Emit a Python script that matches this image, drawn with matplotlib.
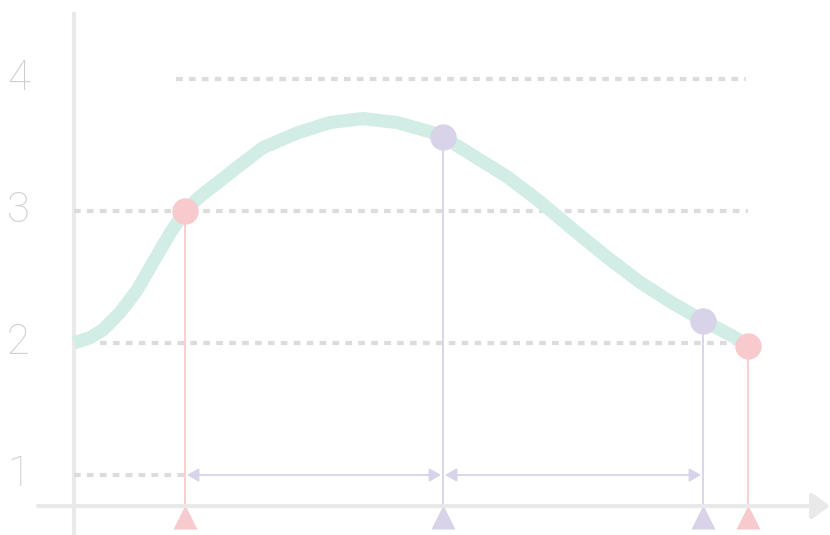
import matplotlib.pyplot as plt

# curve
curve_x = [0, .16, .29, .46, .63, .79, .96, 1.11, 1.26, 1.43, 1.63, 1.89, 2.23, 2.56,
           2.89, 3.23, 3.56, 3.69, 3.99, 4.33, 4.66, 4.99, 5.33, 5.66, 5.99, 6.29, 6.59, 6.74]
curve_y = [2.0, 2.04, 2.10, 2.23, 2.40, 2.61, 2.83, 3.0, 3.11, 3.21, 3.33, 3.48, 3.59, 3.67,
           3.70, 3.67, 3.60, 3.56, 3.42, 3.26, 3.07, 2.86, 2.65, 2.46, 2.30, 2.17, 2.05, 1.98]

pink_x = [1.11, 6.74]
pink_y = [3.0, 1.98]
purple_x = [3.69, 6.29]
purple_y = [3.56, 2.17]

ytick_vals = [1, 2, 3, 4]
ytick_labels = ['1', '2', '3', '4']
# dashed guide lines: level, start, end
guide_y = [4, 3, 2, 1]
guide_start = [1.02, 0, 0.26, 0]
guide_end = [6.72, 6.74, 6.74, 1.11]

mint = '#d2ede5'
pink = '#f7cbce'
purple = '#d8d3e8'
grey = '#dcdcdc'
axis_c = '#e9e9e9'

fig = plt.figure(figsize=(8.3, 5.35), dpi=100)
ax = fig.add_axes([0, 0, 1, 1])
ax.set_xlim(-0.74, 7.56)
ax.set_ylim(0.5455, 4.598)
ax.axis('off')

base = 0.765  # level of the x axis line
tri_y = 0.68

# axes
ax.plot([0, 0], [0.5455, 4.51], color=axis_c, lw=3, solid_capstyle='butt')
ax.annotate('', xy=(7.56, base), xytext=(-0.36, base),
            arrowprops=dict(arrowstyle='-|>,head_length=0.55,head_width=0.4',
                            color=axis_c, lw=3, shrinkA=0, shrinkB=0,
                            mutation_scale=20))

for v, lab in zip(ytick_vals, ytick_labels):
    ax.text(-0.67, v, lab, fontsize=30, fontfamily='Roboto', fontweight='light',
            color='#cfcfcf', ha='left', va='center')

for gy, gs, ge in zip(guide_y, guide_start, guide_end):
    ax.plot([gs, ge], [gy, gy], color=grey, lw=3, linestyle=(0, (1.6, 1.5)))

# drop lines
for px_, py_ in zip(pink_x, pink_y):
    ax.plot([px_, px_], [tri_y, py_], color=pink, lw=1.3)
for px_, py_ in zip(purple_x, purple_y):
    ax.plot([px_, px_], [tri_y, py_], color=purple, lw=1.3)

# span arrows
spans = [(pink_x[0], purple_x[0]), (purple_x[0], purple_x[1])]
for a, b in spans:
    ax.annotate('', xy=(a + 0.02, 1.0), xytext=(b - 0.02, 1.0),
                arrowprops=dict(arrowstyle='<|-|>,head_length=0.35,head_width=0.2',
                                color=purple, lw=1.3, shrinkA=0, shrinkB=0,
                                mutation_scale=20))

ax.plot(curve_x, curve_y, color=mint, lw=9.5, solid_capstyle='butt', solid_joinstyle='round')

ax.plot(pink_x, pink_y, 'o', color=pink, ms=19, mec='none')
ax.plot(purple_x, purple_y, 'o', color=purple, ms=19, mec='none')
ax.plot(pink_x, [tri_y] * 2, '^', color=pink, ms=17, mec='none', clip_on=False)
ax.plot(purple_x, [tri_y] * 2, '^', color=purple, ms=17, mec='none', clip_on=False)

fig.savefig('out.png', dpi=100)
